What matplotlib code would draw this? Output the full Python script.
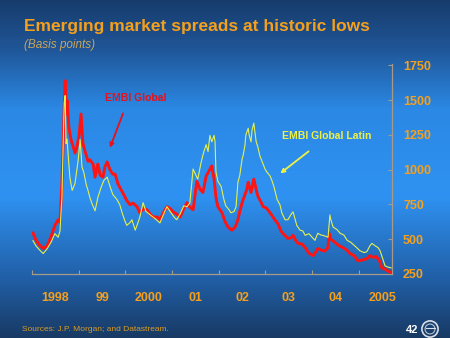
import numpy as np
import matplotlib.pyplot as plt
from matplotlib.colors import LinearSegmentedColormap
from matplotlib.patches import Circle

# EMBI Global spreads, basis points (decimal year, value)
global_t = [1998.02, 1998.09, 1998.17, 1998.24, 1998.32, 1998.41, 1998.49, 1998.56, 1998.60, 1998.64,
            1998.69, 1998.71, 1998.73, 1998.75, 1998.79, 1998.84, 1998.88, 1998.92, 1998.96, 1999.01,
            1999.05, 1999.09, 1999.13, 1999.20, 1999.24, 1999.31, 1999.35, 1999.41, 1999.46, 1999.52,
            1999.56, 1999.61, 1999.67, 1999.73, 1999.78, 1999.84, 1999.88, 1999.95, 2000.03, 2000.10,
            2000.16, 2000.25, 2000.31, 2000.38, 2000.46, 2000.53, 2000.59, 2000.68, 2000.74, 2000.83,
            2000.89, 2000.96, 2001.02, 2001.10, 2001.17, 2001.25, 2001.32, 2001.38, 2001.45, 2001.53,
            2001.60, 2001.66, 2001.73, 2001.79, 2001.85, 2001.90, 2001.94, 2001.98, 2002.07, 2002.13,
            2002.20, 2002.28, 2002.35, 2002.41, 2002.45, 2002.50, 2002.56, 2002.60, 2002.63, 2002.69,
            2002.75, 2002.80, 2002.84, 2002.90, 2002.95, 2003.01, 2003.05, 2003.12, 2003.20, 2003.27,
            2003.33, 2003.37, 2003.44, 2003.48, 2003.55, 2003.59, 2003.65, 2003.70, 2003.78, 2003.85,
            2003.93, 2004.02, 2004.08, 2004.12, 2004.21, 2004.27, 2004.34, 2004.36, 2004.40, 2004.49,
            2004.57, 2004.66, 2004.75, 2004.81, 2004.90, 2004.98, 2005.07, 2005.17, 2005.24, 2005.30,
            2005.37, 2005.41, 2005.45, 2005.49, 2005.56, 2005.62, 2005.69]
global_v = [545, 490, 455, 433, 450, 520, 600, 640, 620, 900,
            1450, 1640, 1400, 1500, 1300, 1210, 1170, 1120, 1160, 1250,
            1400, 1190, 1140, 1060, 1071, 1040, 946, 1041, 960, 946,
            1020, 1056, 1000, 968, 968, 900, 873, 830, 778, 748,
            760, 734, 690, 720, 712, 680, 660, 660, 640, 700,
            734, 720, 697, 680, 660, 720, 763, 730, 712, 917,
            858, 836, 954, 990, 1027, 932, 800, 734, 690, 630,
            587, 565, 587, 640, 700, 763, 820, 858, 910, 836,
            932, 858, 807, 770, 734, 726, 712, 680, 640, 610,
            560, 543, 520, 506, 510, 528, 490, 470, 465, 440,
            400, 382, 410, 433, 420, 415, 440, 543, 500, 477,
            455, 440, 420, 397, 382, 345, 350, 360, 382, 370,
            375, 360, 340, 294, 285, 272, 260]

# EMBI Global Latin spreads
latin_t = [1998.02, 1998.09, 1998.17, 1998.24, 1998.32, 1998.41, 1998.49, 1998.56, 1998.60, 1998.64,
           1998.69, 1998.71, 1998.73, 1998.75, 1998.79, 1998.81, 1998.86, 1998.92, 1998.96, 1998.99,
           1999.03, 1999.07, 1999.11, 1999.16, 1999.20, 1999.24, 1999.28, 1999.35, 1999.41, 1999.48,
           1999.54, 1999.61, 1999.67, 1999.73, 1999.82, 1999.88, 1999.93, 1999.99, 2000.03, 2000.10,
           2000.14, 2000.21, 2000.27, 2000.31, 2000.38, 2000.44, 2000.48, 2000.55, 2000.63, 2000.74,
           2000.83, 2000.89, 2000.96, 2001.04, 2001.10, 2001.17, 2001.25, 2001.32, 2001.38, 2001.45,
           2001.51, 2001.55, 2001.62, 2001.68, 2001.73, 2001.77, 2001.81, 2001.85, 2001.90, 2001.92,
           2001.94, 2001.98, 2002.05, 2002.11, 2002.15, 2002.22, 2002.26, 2002.33, 2002.37, 2002.41,
           2002.45, 2002.50, 2002.52, 2002.56, 2002.58, 2002.63, 2002.65, 2002.69, 2002.71, 2002.75,
           2002.80, 2002.84, 2002.88, 2002.95, 2002.99, 2003.03, 2003.10, 2003.14, 2003.18, 2003.25,
           2003.31, 2003.35, 2003.42, 2003.48, 2003.55, 2003.59, 2003.63, 2003.67, 2003.74, 2003.80,
           2003.85, 2003.93, 2004.00, 2004.06, 2004.12, 2004.19, 2004.23, 2004.30, 2004.34, 2004.38,
           2004.40, 2004.45, 2004.53, 2004.60, 2004.68, 2004.75, 2004.83, 2004.92, 2005.02, 2005.11,
           2005.17, 2005.24, 2005.28, 2005.34, 2005.41, 2005.45, 2005.49, 2005.56, 2005.62, 2005.69]
latin_v = [490, 450, 420, 397, 430, 480, 540, 514, 560, 800,
           1480, 1533, 1188, 1220, 1041, 946, 851, 900, 998, 1071,
           1217, 1020, 980, 895, 850, 800, 760, 704, 800, 873,
           924, 946, 880, 822, 785, 748, 690, 631, 600, 620,
           640, 565, 620, 660, 763, 700, 690, 670, 650, 617,
           690, 734, 700, 660, 640, 680, 740, 734, 760, 1005,
           960, 932, 1050, 1130, 1180, 1130, 1247, 1200, 1247, 1200,
           983, 917, 880, 785, 740, 712, 690, 700, 734, 910,
           960, 1078, 1100, 1174, 1250, 1298, 1250, 1200, 1280, 1335,
           1203, 1160, 1100, 1040, 1005, 983, 954, 920, 880, 785,
           748, 690, 640, 640, 680, 697, 650, 600, 565, 560,
           528, 540, 514, 492, 543, 530, 528, 520, 514, 675,
           640, 587, 570, 543, 530, 492, 477, 450, 418, 404,
           410, 455, 470, 455, 440, 420, 382, 309, 300, 294]

year_labels = ['1998', '99', '2000', '01', '02', '03', '04', '2005']
y_ticks = [250, 500, 750, 1000, 1250, 1500, 1750]

ORANGE = '#f5a01c'
plt.rcParams['font.family'] = ['Liberation Sans', 'DejaVu Sans']

fig = plt.figure(figsize=(4.5, 3.38), dpi=100)

# slide background: dark navy at edges, bright blue in the middle
bg = fig.add_axes([0, 0, 1, 1])
cmap = LinearSegmentedColormap.from_list('slide', [
    (0.0, '#183a64'), (0.18, '#2160a8'), (0.42, '#2f92f2'),
    (0.68, '#2b88e4'), (0.86, '#1f5596'), (1.0, '#173c6c')])
bg.imshow(np.linspace(0, 1, 256).reshape(-1, 1), aspect='auto', cmap=cmap,
          extent=[0, 1, 0, 1])
bg.set_xlim(0, 1)
bg.set_ylim(1, 0)
bg.axis('off')

ax = fig.add_axes([32 / 450, 64 / 338, 360 / 450, 210 / 338])
ax.patch.set_alpha(0)

ax.plot(global_t, global_v, color='#ff1414', lw=2.1, zorder=3)
ax.plot(latin_t, latin_v, color='#e6f04e', lw=0.8, zorder=4)

ax.set_xlim(1998, 2005.71)
ax.set_ylim(250, 1760)

for s in ['top', 'left']:
    ax.spines[s].set_visible(False)
for s in ['bottom', 'right']:
    ax.spines[s].set_color('#a89a86')
    ax.spines[s].set_linewidth(0.9)

# year boundaries get the tick marks, labels sit mid-year
ax.set_xticks(np.arange(1998, 2006))
ax.set_xticklabels([])
ax.set_xticks(np.arange(1998, 2006) + 0.5, minor=True)
ax.set_xticklabels(year_labels, minor=True)
ax.tick_params(axis='x', which='major', direction='in', length=3, color='#a89a86')
ax.tick_params(axis='x', which='minor', length=0, pad=13, labelsize=9,
               labelcolor=ORANGE)

ax.yaxis.tick_right()
ax.set_yticks(y_ticks)
ax.tick_params(axis='y', direction='in', length=3, color='#a89a86', pad=8,
               labelsize=9, labelcolor=ORANGE)
for lab in ax.get_xticklabels(minor=True) + ax.get_yticklabels():
    lab.set_fontweight('bold')

# series call-outs
ax.text(2000.23, 1518, 'EMBI Global', color='#e8101a', fontsize=7.5,
        fontweight='bold', ha='center', va='center')
ax.annotate('', xy=(1999.65, 1140), xytext=(1999.97, 1423),
            arrowprops=dict(arrowstyle='-|>', color='#e8101a', lw=1.3,
                            mutation_scale=6))
ax.text(2004.32, 1240, 'EMBI Global Latin', color='#eef048', fontsize=7.5,
        fontweight='bold', ha='center', va='center')
ax.annotate('', xy=(2003.27, 961), xytext=(2003.97, 1144),
            arrowprops=dict(arrowstyle='-|>', color='#eef048', lw=1.3,
                            mutation_scale=6))

fig.text(24 / 450, 1 - 31 / 338, 'Emerging market spreads at historic lows',
         color=ORANGE, fontsize=12.5, fontweight='bold', va='baseline')
fig.text(24 / 450, 1 - 48 / 338, '(Basis points)', color='#c9a45c',
         fontsize=8.5, fontstyle='italic', va='baseline')
fig.text(22 / 450, 1 - 331 / 338, 'Sources: J.P. Morgan; and Datastream.',
         color='#d99a22', fontsize=6, va='baseline')
fig.text(412 / 450, 1 - 330 / 338, '42', color='white', fontsize=8,
         fontweight='bold', ha='center', va='center')

# small seal in the corner
seal = fig.add_axes([421 / 450, 0, 18 / 450, 18 / 338])
seal.set_xlim(-1, 1)
seal.set_ylim(-1, 1)
seal.set_aspect('equal')
seal.axis('off')
seal.add_patch(Circle((0, 0), 0.9, fill=False, ec='#d8dde6', lw=1.2))
seal.add_patch(Circle((0, 0), 0.55, fill=False, ec='#b8c2d2', lw=0.8))
seal.plot([-0.5, 0.5], [0.1, 0.1], color='#d8dde6', lw=0.8)

fig.savefig('out.png', dpi=100)
